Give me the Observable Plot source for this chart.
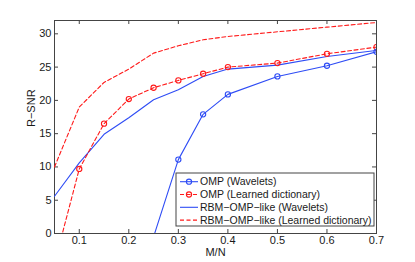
<!DOCTYPE html>
<html>
<head>
<meta charset="utf-8">
<script src="https://cdn.jsdelivr.net/npm/d3@7"></script>
<script src="https://cdn.jsdelivr.net/npm/@observablehq/plot@0.6"></script>
<style>
  html, body { margin: 0; padding: 0; background: white; }
</style>
</head>
<body>
<div id="chart"></div>
<script>
// Data
const xOMPWav = [0.25, 0.3, 0.35, 0.4, 0.5, 0.6, 0.7];
const yOMPWav = [-0.5, 11.1, 17.9, 20.9, 23.6, 25.2, 27.3];

const xOMPLearn = [0.05, 0.1, 0.15, 0.2, 0.25, 0.3, 0.35, 0.4, 0.5, 0.6, 0.7];
const yOMPLearn = [-4.5, 9.7, 16.5, 20.2, 21.9, 23.0, 24.0, 25.0, 25.6, 27.0, 28.0];
const markOMPLearn = [false, true, true, true, true, true, true, true, true, true, true];

const xRBM = [0.05, 0.1, 0.15, 0.2, 0.25, 0.3, 0.35, 0.4, 0.5, 0.6, 0.7];
const yRBMWav = [5.6, 10.6, 14.9, 17.4, 20.1, 21.6, 23.6, 24.7, 25.3, 26.6, 27.5];
const yRBMLearn = [10.0, 19.0, 22.7, 24.7, 27.1, 28.2, 29.1, 29.6, 30.3, 31.0, 31.7];

const xTicks = [0.1, 0.2, 0.3, 0.4, 0.5, 0.6, 0.7];
const yTicks = [0, 5, 10, 15, 20, 25, 30];

const seriesNames = ["OMP (Wavelets)", "OMP (Learned dictionary)", "RBM\u2212OMP\u2212like (Wavelets)", "RBM\u2212OMP\u2212like (Learned dictionary)"];
const xLabel = "M/N";
const yLabel = "R\u2212SNR";

const BLUE = "#2e4cf5";
const RED = "#ff1a1a";
const DASH = "4,2.5";

const ompWav = xOMPWav.map((x, i) => ({x, y: yOMPWav[i]}));
const ompLearn = xOMPLearn.map((x, i) => ({x, y: yOMPLearn[i], m: markOMPLearn[i]}));
const rbmWav = xRBM.map((x, i) => ({x, y: yRBMWav[i]}));
const rbmLearn = xRBM.map((x, i) => ({x, y: yRBMLearn[i]}));

const W = 415, H = 262, mL = 54, mR = 39, mT = 20, mB = 29;
const fH = H - mT - mB, fW = W - mL - mR;
const tick = 4;

const svg = Plot.plot({
  width: W, height: H,
  marginLeft: mL, marginRight: mR, marginTop: mT, marginBottom: mB,
  style: {fontFamily: "'Liberation Sans', Arial, sans-serif", fontSize: "11px", color: "#1a1a1a", background: "white", overflow: "visible"},
  x: {domain: [0.05, 0.7]},
  y: {domain: [0, 32]},
  marks: [
    Plot.frame({stroke: "#444", strokeWidth: 1}),
    // inward ticks on all four sides
    Plot.tickX(xTicks, {x: d => d, insetTop: fH - tick, stroke: "#444"}),
    Plot.tickX(xTicks, {x: d => d, insetBottom: fH - tick, stroke: "#444"}),
    Plot.tickY(yTicks, {y: d => d, insetRight: fW - tick, stroke: "#444"}),
    Plot.tickY(yTicks, {y: d => d, insetLeft: fW - tick, stroke: "#444"}),
    Plot.axisX(xTicks, {tickSize: 0, tickPadding: 3, tickFormat: d3.format(".1f"), label: null}),
    Plot.axisY(yTicks, {tickSize: 0, tickPadding: 3, label: null}),
    Plot.text([xLabel], {frameAnchor: "bottom", dy: 22, fontSize: 11}),
    Plot.text([yLabel], {frameAnchor: "left", dx: -23, rotate: -90, fontSize: 11}),
    // series
    Plot.line(rbmLearn, {x: "x", y: "y", stroke: RED, strokeWidth: 1.1, strokeDasharray: DASH, clip: true}),
    Plot.line(rbmWav, {x: "x", y: "y", stroke: BLUE, strokeWidth: 1.1, clip: true}),
    Plot.line(ompLearn, {x: "x", y: "y", stroke: RED, strokeWidth: 1.1, strokeDasharray: DASH, clip: true}),
    Plot.dot(ompLearn.filter(d => d.m), {x: "x", y: "y", r: 2.6, stroke: RED, strokeWidth: 1.1, fill: "none", clip: true}),
    Plot.line(ompWav, {x: "x", y: "y", stroke: BLUE, strokeWidth: 1.1, clip: true}),
    Plot.dot(ompWav, {x: "x", y: "y", r: 2.6, stroke: BLUE, strokeWidth: 1.1, fill: "none", clip: true})
  ]
});

// Legend (inside the plot, lower right)
const g = d3.select(svg).append("g").attr("class", "legend").attr("text-anchor", "start");
const lx = 176, ly = 173, lw = 198, lh = 53;
g.append("rect").attr("x", lx).attr("y", ly).attr("width", lw).attr("height", lh)
  .attr("fill", "white").attr("stroke", "#444").attr("stroke-width", 1);
const styles = [
  {stroke: BLUE, dash: null, marker: true},
  {stroke: RED, dash: DASH, marker: true},
  {stroke: BLUE, dash: null, marker: false},
  {stroke: RED, dash: DASH, marker: false}
];
seriesNames.forEach((name, i) => {
  const cy = ly + 8.7 + i * 12.8;
  const s = styles[i];
  const ln = g.append("line").attr("x1", lx + 4).attr("x2", lx + 22).attr("y1", cy).attr("y2", cy)
    .attr("stroke", s.stroke).attr("stroke-width", 1.1);
  if (s.dash) ln.attr("stroke-dasharray", s.dash);
  if (s.marker) g.append("circle").attr("cx", lx + 13).attr("cy", cy).attr("r", 2.6)
    .attr("fill", "none").attr("stroke", s.stroke).attr("stroke-width", 1.1);
  g.append("text").attr("x", lx + 24).attr("y", cy).attr("dy", "0.35em")
    .attr("text-anchor", "start")
    .attr("fill", "#1a1a1a").attr("font-size", 10.5).text(name);
});

document.getElementById("chart").appendChild(svg);
</script>
</body>
</html>
